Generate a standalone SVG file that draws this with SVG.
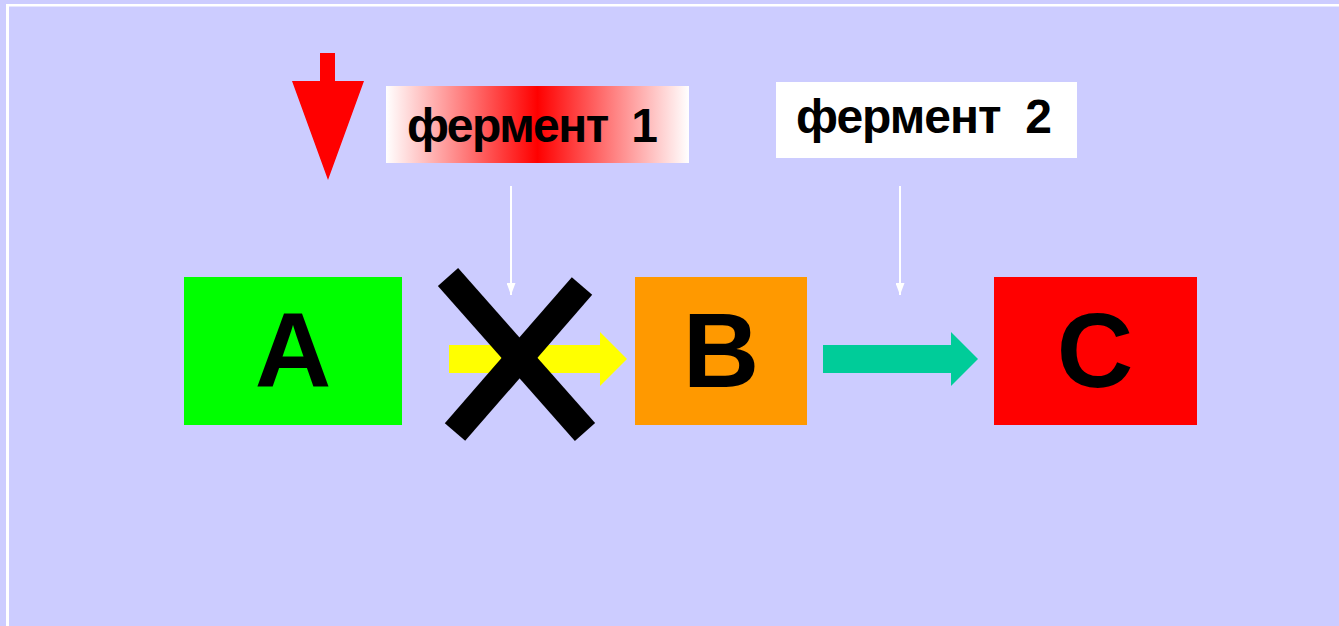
<svg xmlns="http://www.w3.org/2000/svg" width="1339" height="626" viewBox="0 0 1339 626">
<defs>
<linearGradient id="g1" x1="0" y1="0" x2="1" y2="0">
<stop offset="0" stop-color="#FFFFFF"/>
<stop offset="0.25" stop-color="#FF8080"/>
<stop offset="0.5" stop-color="#FF0000"/>
<stop offset="0.75" stop-color="#FF8080"/>
<stop offset="1" stop-color="#FFFFFF"/>
</linearGradient>
<marker id="wa" markerWidth="12" markerHeight="9" refX="12" refY="4.5" orient="auto" markerUnits="userSpaceOnUse" viewBox="0 0 12 9">
<path d="M0,0 L12,4.5 L0,9 Z" fill="#FFFFFF"/>
</marker>
<style>
.lbl{font-family:"Liberation Sans",Arial,sans-serif;font-weight:bold;fill:#000}
.big{font-size:106px;text-anchor:middle}
.enz{font-size:48px;white-space:pre}
.thin{stroke:#FFFFFF;stroke-width:2;fill:none}
</style>
</defs>
<rect x="0" y="0" width="1339" height="626" fill="#CCCCFF"/>
<rect x="6" y="4" width="1333" height="2.5" fill="#FFFFFF"/>
<rect x="6" y="4" width="3" height="622" fill="#FFFFFF"/>
<g id="red-arrow">
<path d="M320,53 L335,53 L335,81 L364,81 L328,180 L292,81 L320,81 Z" fill="#FF0000"/>
</g>
<g id="enzyme1">
<rect x="386" y="86" width="303" height="77" fill="url(#g1)"/>
<text class="lbl enz" x="407" y="142" textLength="251" lengthAdjust="spacing" xml:space="preserve">фермент  1</text>
</g>
<g id="enzyme2">
<rect x="776" y="82" width="301" height="76" fill="#FFFFFF"/>
<text class="lbl enz" x="796" y="133" textLength="256" lengthAdjust="spacing" xml:space="preserve">фермент  2</text>
</g>
<g id="nodeA">
<rect x="184" y="277" width="218" height="148" fill="#00FF00"/>
<text class="lbl big" x="293" y="387">A</text>
</g>
<g id="nodeB">
<rect x="635" y="277" width="172" height="148" fill="#FF9900"/>
<text class="lbl big" x="721" y="387">B</text>
</g>
<g id="nodeC">
<rect x="994" y="277" width="203" height="148" fill="#FF0000"/>
<text class="lbl big" x="1095" y="387">C</text>
</g>
<g id="connectors">
<path d="M449,345 L600,345 L600,332 L627,359 L600,386 L600,373 L449,373 Z" fill="#FFFF00"/>
<path d="M823,345 L951,345 L951,332 L978,359 L951,386 L951,373 L823,373 Z" fill="#00CC99"/>
<line class="thin" x1="511" y1="186" x2="511" y2="295" marker-end="url(#wa)"/>
<line class="thin" x1="900" y1="186" x2="900" y2="295" marker-end="url(#wa)"/>
</g>
<g id="cross">
<line x1="448" y1="277" x2="585" y2="432" stroke="#000" stroke-width="27"/>
<line x1="582" y1="286" x2="455" y2="432" stroke="#000" stroke-width="27"/>
</g>
</svg>
